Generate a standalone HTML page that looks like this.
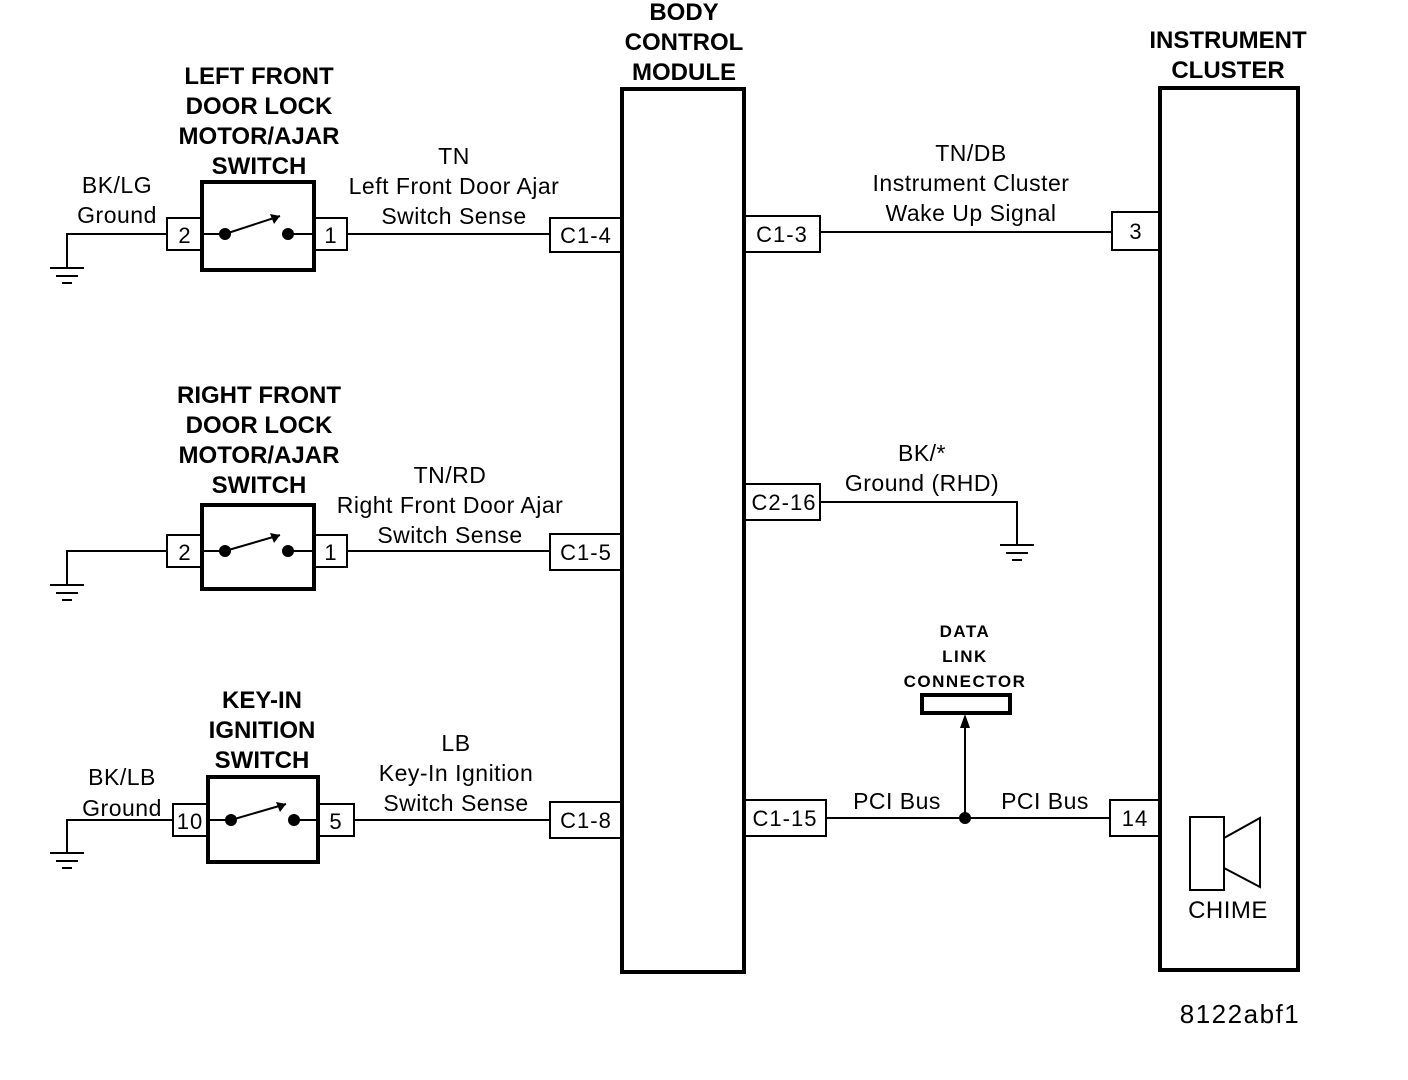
<!DOCTYPE html>
<html><head><style>
html,body{margin:0;padding:0;background:#fff}
svg{display:block}
text{font-family:"Liberation Sans",sans-serif;fill:#000}
.b{font-weight:bold;font-size:24px}
.r{font-size:23px;letter-spacing:0.5px}
.p{font-size:22px;letter-spacing:1px}
</style></head><body>
<svg width="1408" height="1080" viewBox="0 0 1408 1080">
<g fill="none" stroke="#000">
<rect x="622" y="89" width="122" height="883" stroke-width="4"/>
<rect x="1160" y="88" width="138" height="882" stroke-width="4"/>
<rect x="202" y="182" width="112" height="88" stroke-width="4"/>
<rect x="202" y="505" width="112" height="84" stroke-width="4"/>
<rect x="208" y="777" width="110" height="85" stroke-width="4"/>
<g stroke-width="2">
<rect x="167" y="218" width="35" height="32"/>
<rect x="314" y="218" width="33" height="32"/>
<rect x="167" y="535" width="35" height="32"/>
<rect x="314" y="535" width="33" height="32"/>
<rect x="173" y="804" width="35" height="32"/>
<rect x="318" y="804" width="36" height="32"/>
<rect x="550" y="218" width="72" height="34"/>
<rect x="550" y="534" width="72" height="36"/>
<rect x="550" y="802" width="72" height="36"/>
<rect x="744" y="216" width="76" height="36"/>
<rect x="744" y="484" width="76" height="36"/>
<rect x="744" y="800" width="82" height="36"/>
<rect x="1112" y="212" width="48" height="38"/>
<rect x="1110" y="800" width="50" height="36"/>
<rect x="1190" y="817" width="34" height="73"/>
<polygon points="1224,838 1260,818 1260,887 1224,868"/>
</g>
<rect x="922" y="695" width="88" height="18" stroke-width="4"/>
<g stroke-width="2">
<polyline points="167,234 67,234 67,268"/>
<polyline points="167,551 67,551 67,585"/>
<polyline points="173,820 67,820 67,853"/>
<line x1="347" y1="234" x2="550" y2="234"/>
<line x1="347" y1="551" x2="550" y2="551"/>
<line x1="354" y1="820" x2="550" y2="820"/>
<line x1="820" y1="232" x2="1112" y2="232"/>
<polyline points="820,502 1017,502 1017,545"/>
<line x1="826" y1="818" x2="1110" y2="818"/>
<line x1="965" y1="818" x2="965" y2="725"/>
<line x1="202" y1="234" x2="225" y2="234"/><line x1="225" y1="234" x2="280" y2="216"/><line x1="288" y1="234" x2="314" y2="234"/>
<line x1="202" y1="551" x2="225" y2="551"/><line x1="225" y1="551" x2="280" y2="535"/><line x1="288" y1="551" x2="314" y2="551"/>
<line x1="208" y1="820" x2="231" y2="820"/><line x1="231" y1="820" x2="286" y2="804"/><line x1="294" y1="820" x2="318" y2="820"/>
<line x1="50" y1="268" x2="84" y2="268"/><line x1="56" y1="276" x2="78" y2="276"/><line x1="62" y1="283" x2="72" y2="283"/>
<line x1="50" y1="585" x2="84" y2="585"/><line x1="56" y1="593" x2="78" y2="593"/><line x1="62" y1="600" x2="72" y2="600"/>
<line x1="50" y1="853" x2="84" y2="853"/><line x1="56" y1="861" x2="78" y2="861"/><line x1="62" y1="868" x2="72" y2="868"/>
<line x1="1000" y1="545" x2="1034" y2="545"/><line x1="1006" y1="553" x2="1028" y2="553"/><line x1="1012" y1="560" x2="1022" y2="560"/>
</g>
</g>
<g fill="#000">
<circle cx="225" cy="234" r="6"/><circle cx="288" cy="234" r="6"/>
<circle cx="225" cy="551" r="6"/><circle cx="288" cy="551" r="6"/>
<circle cx="231" cy="820" r="6"/><circle cx="294" cy="820" r="6"/>
<polygon points="280,216 270,214 274,224"/><polygon points="280,535 270,533 274,543"/><polygon points="286,804 276,802 280,812"/>
<circle cx="965" cy="818" r="6"/>
<polygon points="965,714 960,728 970,728"/>
</g>
<g class="b" text-anchor="middle">
<text x="684" y="20">BODY</text><text x="684" y="50">CONTROL</text><text x="684" y="80">MODULE</text>
<text x="1228" y="48">INSTRUMENT</text><text x="1228" y="78">CLUSTER</text>
<text x="259" y="84">LEFT FRONT</text><text x="259" y="114">DOOR LOCK</text><text x="259" y="144">MOTOR/AJAR</text><text x="259" y="174">SWITCH</text>
<text x="259" y="403">RIGHT FRONT</text><text x="259" y="433">DOOR LOCK</text><text x="259" y="463">MOTOR/AJAR</text><text x="259" y="493">SWITCH</text>
<text x="262" y="708">KEY-IN</text><text x="262" y="738">IGNITION</text><text x="262" y="768">SWITCH</text>
<text x="965" y="637" style="font-size:17px;letter-spacing:1.5px">DATA</text><text x="965" y="662" style="font-size:17px;letter-spacing:1.5px">LINK</text><text x="965" y="687" style="font-size:17px;letter-spacing:1.5px">CONNECTOR</text>
</g>
<g class="r" text-anchor="middle">
<text x="117" y="193">BK/LG</text><text x="117" y="223">Ground</text>
<text x="122" y="785">BK/LB</text><text x="122" y="816">Ground</text>
<text x="454" y="164">TN</text><text x="454" y="194">Left Front Door Ajar</text><text x="454" y="224">Switch Sense</text>
<text x="450" y="483">TN/RD</text><text x="450" y="513">Right Front Door Ajar</text><text x="450" y="543">Switch Sense</text>
<text x="456" y="751">LB</text><text x="456" y="781">Key-In Ignition</text><text x="456" y="811">Switch Sense</text>
<text x="971" y="161">TN/DB</text><text x="971" y="191">Instrument Cluster</text><text x="971" y="221">Wake Up Signal</text>
<text x="922" y="461">BK/*</text><text x="922" y="491">Ground (RHD)</text>
<text x="897" y="809">PCI Bus</text><text x="1045" y="809">PCI Bus</text>
<text x="1228" y="918" style="font-size:24px">CHIME</text>
<text x="1240" y="1023" style="font-size:26px;letter-spacing:1.5px">8122abf1</text>
</g>
<g class="p" text-anchor="middle">
<text x="185" y="243">2</text><text x="331" y="243">1</text>
<text x="185" y="560">2</text><text x="331" y="560">1</text>
<text x="190" y="829">10</text><text x="336" y="829">5</text>
<text x="586" y="243">C1-4</text><text x="586" y="560">C1-5</text><text x="586" y="828">C1-8</text>
<text x="782" y="242">C1-3</text><text x="784" y="510">C2-16</text><text x="785" y="826">C1-15</text>
<text x="1136" y="239">3</text><text x="1135" y="826">14</text>
</g>
</svg>
</body></html>
